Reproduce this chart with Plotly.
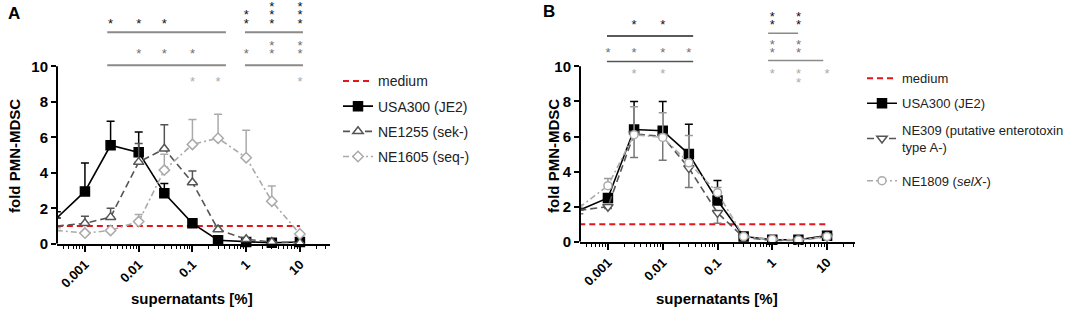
import plotly.graph_objects as go

# ---------------- data ----------------
conc = [0.0003, 0.001, 0.003, 0.01, 0.03, 0.1, 0.3, 1, 3, 10]
medium_level = 1.0

# Panel A
a_usa300 = [1.45, 2.95, 5.55, 5.15, 2.85, 1.15, 0.2, 0.1, 0.05, 0.1]
a_usa300_err = [0.35, 1.6, 1.35, 1.15, 0.55, None, None, None, None, None]
a_ne1255 = [1.0, 1.15, 1.5, 4.6, 5.35, 3.45, 0.8, 0.25, 0.1, 0.05]
a_ne1255_err = [None, 0.4, 0.5, 1.05, 1.35, 0.65, 0.2, None, None, None]
a_ne1605 = [0.75, 0.6, 0.75, 1.25, 4.15, 5.6, 5.95, 4.85, 2.4, 0.55]
a_ne1605_err = [0.15, None, None, 0.4, 0.9, 1.4, 1.35, 1.55, 0.85, None]

# Panel B
b_usa300 = [1.8, 2.5, 6.4, 6.33, 5.0, 2.35, 0.3, 0.12, 0.12, 0.35]
b_usa300_err = [0.1, 0.2, 1.6, 1.67, 1.7, 1.15, None, None, None, None]
b_ne309 = [1.8, 2.0, 6.15, 6.0, 4.2, 1.65, 0.25, 0.08, 0.08, 0.3]
b_ne309_err_down = [0.2, 0.1, 1.35, 1.35, 1.1, 0.6, None, None, None, None]
b_ne1809 = [1.95, 3.2, 6.1, 5.95, 4.5, 2.8, 0.3, 0.15, 0.1, 0.3]
b_ne1809_err = [0.15, 0.4, 1.6, 1.4, 1.55, 0.3, None, None, None, None]

# significance (x position, number of stars)
a_sig_black_x = [0.003, 0.01, 0.03, 1, 3, 10]
a_sig_black_n = [1, 1, 1, 2, 3, 3]
a_sig_gray_x = [0.01, 0.03, 0.1, 1, 3, 10]
a_sig_gray_n = [1, 1, 1, 1, 2, 2]
a_sig_light_x = [0.1, 0.3, 10]
a_sig_light_n = [1, 1, 1]

b_sig_black_x = [0.003, 0.01, 1, 3]
b_sig_black_n = [1, 1, 2, 2]
b_sig_gray_x = [0.001, 0.003, 0.01, 0.03, 1, 3]
b_sig_gray_n = [1, 1, 1, 1, 2, 2]
b_sig_light_x = [0.003, 0.01, 1, 3, 10]
b_sig_light_n = [1, 1, 1, 2, 1]

x_ticks = [0.001, 0.01, 0.1, 1, 10]
y_ticks = [0, 2, 4, 6, 8, 10]

# ---------------- layout helpers ----------------
W, H = 1084, 320
FONT = "Liberation Sans, Arial, sans-serif"
BLACK, DGRAY, LGRAY, RED = "#111111", "#707070", "#ababab", "#e8141b"

fig = go.Figure()

panels = {
    "A": dict(xa="x", ya="y", y0px=250, upx=18.2),
    "B": dict(xa="x2", ya="y2", y0px=248, upx=18.0),
}


def py2d(panel, px):
    p = panels[panel]
    return (p["y0px"] - px) / p["upx"]


def series(panel, legend, name, y, color, dash, symbol, fill, err_up=None,
           err_down=None, errcolor=None, size=9, width=1.6):
    p = panels[panel]
    ey = None
    if err_up is not None or err_down is not None:
        up = err_up if err_up is not None else [None] * len(y)
        dn = err_down if err_down is not None else [None] * len(y)
        ey = dict(type="data", symmetric=False,
                  array=[u if u is not None else 0 for u in up],
                  arrayminus=[d if d is not None else 0 for d in dn],
                  color=errcolor or color, thickness=1.5, width=4)
    fig.add_trace(go.Scatter(
        x=conc, y=y, name=name, mode="lines+markers",
        line=dict(color=color, dash=dash, width=width),
        marker=dict(symbol=symbol, size=size, color=fill,
                    line=dict(color=color, width=1.5)),
        error_y=ey, xaxis=p["xa"], yaxis=p["ya"], legend=legend,
        legendgroup=panel + name, cliponaxis=False))


def medium(panel, legend):
    p = panels[panel]
    fig.add_trace(go.Scatter(
        x=[conc[0], conc[-1]], y=[medium_level, medium_level], name="medium",
        mode="lines", line=dict(color=RED, dash="6px,4px", width=2),
        xaxis=p["xa"], yaxis=p["ya"], legend=legend,
        legendgroup=panel + "medium", cliponaxis=False))


DASH = "7px,4px"
DASHDOT = "6px,3px,2px,3px"

# Panel A
medium("A", "legend")
series("A", "legend", "USA300 (JE2)", a_usa300, "#000000", "solid", "square", "#000000",
       err_up=a_usa300_err)
series("A", "legend", "NE1255 (sek-)", a_ne1255, "#555555", DASH, "triangle-up", "white",
       err_up=a_ne1255_err)
series("A", "legend", "NE1605 (seq-)", a_ne1605, "#aaaaaa", DASHDOT, "diamond", "white",
       err_up=a_ne1605_err, size=8)

# Panel B
medium("B", "legend2")
series("B", "legend2", "USA300 (JE2)", b_usa300, "#000000", "solid", "square", "#000000",
       err_up=b_usa300_err)
series("B", "legend3", "NE309 (putative enterotoxin<br>type A-)", b_ne309, "#555555", DASH,
       "triangle-down", "white", err_down=b_ne309_err_down, errcolor="#777777")
series("B", "legend4", "NE1809 (<i>selX</i>-)", b_ne1809, "#aaaaaa", DASHDOT, "circle",
       "white", err_up=b_ne1809_err, errcolor="#999999", size=8)


# significance stars (as text) and bars
STAR_STEP = 8.5   # px between stacked stars
STAR_SHIFT = 3.0  # px correction for glyph position inside the text box


def stars(panel, xs, ns, base_px, color, up=True):
    p = panels[panel]
    sx, sy = [], []
    for x, n in zip(xs, ns):
        for k in range(n):
            px = base_px - k * STAR_STEP if up else base_px + k * STAR_STEP
            sx.append(x)
            sy.append(py2d(panel, px + STAR_SHIFT))
    fig.add_trace(go.Scatter(
        x=sx, y=sy, mode="text", text=["*"] * len(sx), textposition="middle center",
        textfont=dict(size=13, color=color, family=FONT), showlegend=False,
        hoverinfo="skip", xaxis=p["xa"], yaxis=p["ya"], cliponaxis=False))


def sig_bar(panel, x0, x1, ypx, color, width=2):
    p = panels[panel]
    y = py2d(panel, ypx)
    fig.add_trace(go.Scatter(
        x=[x0, x1], y=[y, y], mode="lines", line=dict(color=color, width=width),
        showlegend=False, hoverinfo="skip", xaxis=p["xa"], yaxis=p["ya"],
        cliponaxis=False))


# Panel A
stars("A", a_sig_black_x, a_sig_black_n, 22, BLACK)
stars("A", a_sig_gray_x, a_sig_gray_n, 53, DGRAY)
stars("A", a_sig_light_x, a_sig_light_n, 82, LGRAY)
for y_px in (33, 67):
    sig_bar("A", 0.0026, 0.42, y_px, "#8a8a8a")
    sig_bar("A", 0.95, 11.4, y_px, "#8a8a8a")

# Panel B
stars("B", b_sig_black_x, b_sig_black_n, 23.5, BLACK)
stars("B", b_sig_gray_x, b_sig_gray_n, 52.5, DGRAY)
stars("B", b_sig_light_x, b_sig_light_n, 74, LGRAY, up=False)
sig_bar("B", 0.00096, 0.036, 37, "#222222", 1.5)
sig_bar("B", 0.00096, 0.036, 63, "#555555", 1.5)
sig_bar("B", 0.84, 2.96, 34, "#8a8a8a", 1.5)
sig_bar("B", 0.84, 8.5, 62, "#8a8a8a", 1.5)

# ---------------- axes ----------------
minor_vals = [m * 10 ** e for e in range(-4, 2) for m in range(2, 10)]


def xaxis_cfg(x0px, x1px, rng, anchor):
    return dict(
        domain=[x0px / W, x1px / W], type="log", range=rng, anchor=anchor,
        showline=True, linecolor="black", linewidth=2, showgrid=False, zeroline=False,
        tickmode="array", tickvals=x_ticks, ticktext=[str(t) for t in x_ticks],
        ticks="outside", ticklen=6, tickwidth=1.5, tickcolor="black",
        tickangle=-45, tickfont=dict(family=FONT, size=13, color="black", weight="bold"),
        minor=dict(tickmode="array", tickvals=minor_vals, ticks="outside", ticklen=3,
                   tickwidth=1.2, tickcolor="black", showgrid=False),
    )


def yaxis_cfg(panel, anchor):
    p = panels[panel]
    return dict(
        domain=[(H - p["y0px"]) / H, 1], range=[0, p["y0px"] / p["upx"]], anchor=anchor,
        showline=False, showgrid=False, zeroline=False,
        tickmode="array", tickvals=y_ticks, ticks="outside", ticklen=5, tickwidth=1.5,
        tickcolor="black", tickfont=dict(family=FONT, size=15, color="black", weight="bold"),
    )


fig.update_layout(
    xaxis=xaxis_cfg(57, 330, [-3.52, 1.56], "y"),
    yaxis=yaxis_cfg("A", "x"),
    xaxis2=xaxis_cfg(580, 855, [-3.51, 1.51], "y2"),
    yaxis2=yaxis_cfg("B", "x2"),
)

# y-axis lines only from 0 to 10
for xr, yr in (("x domain", "y"), ("x2 domain", "y2")):
    fig.add_shape(type="line", xref=xr, yref=yr, x0=0, x1=0, y0=0, y1=10,
                  line=dict(color="black", width=2))

# titles and panel letters
ann = [
    dict(text="<b>fold PMN-MDSC</b>", x=14 / W, y=1 - 160 / H, textangle=-90, size=15),
    dict(text="<b>fold PMN-MDSC</b>", x=553 / W, y=1 - 160 / H, textangle=-90, size=15),
    dict(text="<b>supernatants [%]</b>", x=192 / W, y=1 - 306 / H, textangle=0, size=15),
    dict(text="<b>supernatants [%]</b>", x=717 / W, y=1 - 306 / H, textangle=0, size=15),
    dict(text="<b>A</b>", x=14 / W, y=1 - 14 / H, textangle=0, size=17),
    dict(text="<b>B</b>", x=549 / W, y=1 - 12 / H, textangle=0, size=17),
]
for a in ann:
    fig.add_annotation(text=a["text"], x=a["x"], y=a["y"], xref="paper", yref="paper",
                       showarrow=False, textangle=a["textangle"],
                       xanchor="center", yanchor="middle",
                       font=dict(family=FONT, size=a["size"], color="black"))


def legend_cfg(xpx, ypx, size, gap):
    return dict(x=xpx / W, y=1 - ypx / H, xanchor="left", yanchor="top",
                font=dict(family=FONT, size=size, color="#222222"),
                bgcolor="rgba(0,0,0,0)", tracegroupgap=gap, traceorder="grouped")


fig.update_layout(
    width=W, height=H, margin=dict(l=0, r=0, t=0, b=0),
    paper_bgcolor="white", plot_bgcolor="white",
    font=dict(family=FONT, color="#222222"),
    showlegend=True,
    legend=legend_cfg(338, 67, 14, 4),
    legend2=legend_cfg(862, 65, 13, 5),
    legend3=legend_cfg(862, 118, 13, 0),
    legend4=legend_cfg(862, 170, 13, 0),
)

fig.write_html("out.html", config={"displayModeBar": False},
               post_script="document.body.style.margin='0';document.body.style.padding='0';")
